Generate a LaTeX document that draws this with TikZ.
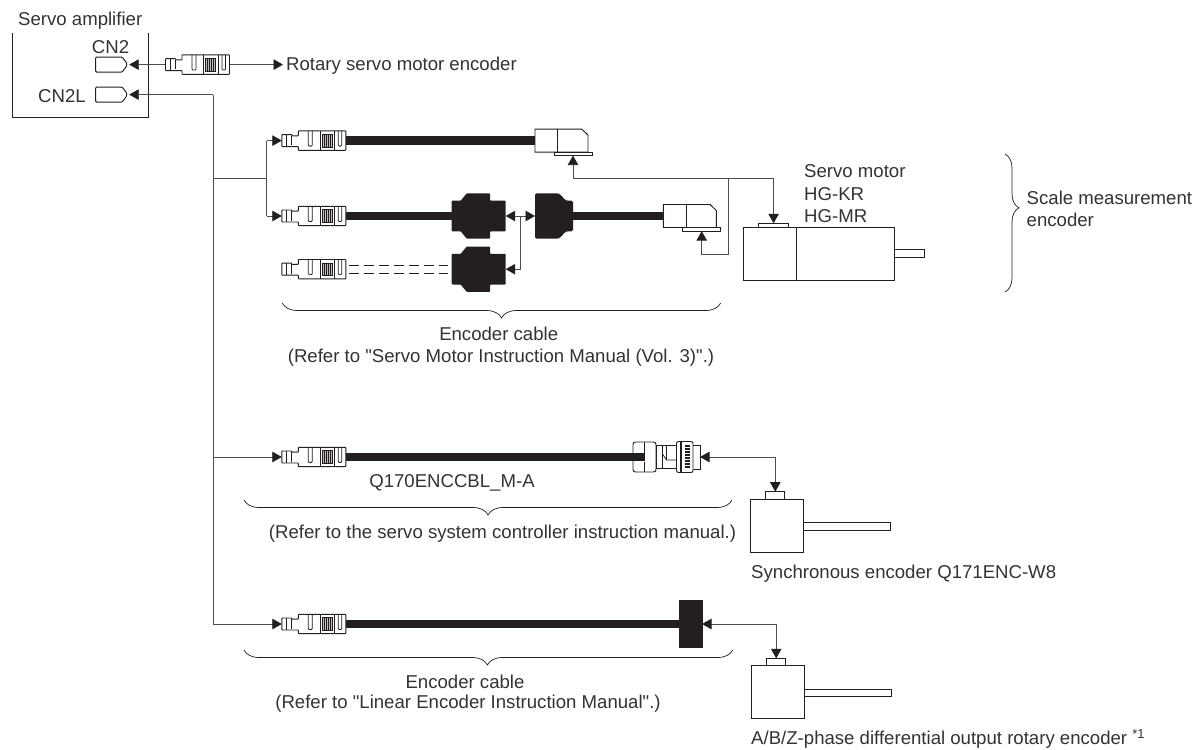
\documentclass[tikz,border=0pt]{standalone}
\usepackage{fontspec}
\setmainfont{Liberation Sans}[Ligatures=TeXOff]
\usetikzlibrary{arrows.meta,decorations.pathreplacing}
\definecolor{Ink}{HTML}{231F20}
\definecolor{Wire}{HTML}{4D4D4D}
\definecolor{Label}{HTML}{333333}
\tikzset{
  wire/.style={draw=Wire,line width=.8pt},
  wirearrow/.style={wire,-{Triangle[length=9.5pt,width=10.5pt,color=Ink]}},
  cablewire/.style={draw=Ink,line width=8.5pt},
  part/.style={draw=Ink,line width=.95pt,fill=white,inner sep=0pt,outer sep=0pt},
  ghost/.style={inner sep=0pt,outer sep=0pt},
  txt/.style={text=Label,font=\fontsize{18.6}{22}\selectfont,inner sep=0pt,text height=15.8pt,text depth=3.9pt},
  curly/.style={draw=Ink,line width=.7pt,decorate},
  plug/.pic={
    \draw[part,line join=round,rounded corners=.6pt] (-32,-6)--(-22,-6)--(-22,-4.8)--(-15.5,-4.8)--(-15.5,-9.7)--(32,-9.7)--(32,9.7)--(-15.5,9.7)--(-15.5,6)--(-22,6)--(-32,6)--cycle;
    \draw[draw=Ink,line width=.8pt] (-27,-6)--(-27,6) (-22,-4.8)--(-22,4.8) (6.2,-9.7)--(6.2,9.7) (20.5,-9.7)--(20.5,9.7);
    \draw[draw=Ink,line width=.8pt,rounded corners=1pt] (-5.5,-9.7)--(-5.5,5.5)--(-1.5,5.5)--(-1.5,-9.7) (24.5,-9.7)--(24.5,5.5)--(28,5.5)--(28,-9.7);
    \draw[draw=Ink,line width=.6pt,fill=gray!55] (8,-6.3) rectangle (18,6.3);
    \foreach \hx in {10,12,14,16} \draw[draw=Ink,line width=.4pt] (\hx,-6.3)--(\hx,6.3);
  },
  tee/.pic={\fill[Ink,rounded corners=.8pt] (-27,-15.3)--(-18,-15.3)--(-12,-22.7)--(11.3,-22.7)--(11.3,-15.3)--(27,-15.3)--(27,15.3)--(11.3,15.3)--(11.3,22.7)--(-12,22.7)--(-18,15.3)--(-27,15.3)--cycle;},
  halftee/.pic={\fill[Ink,rounded corners=1.5pt] (-19,-22.7)--(5,-22.7)--(12,-15.3)--(19,-15.3)--(19,15.3)--(12,15.3)--(5,22.7)--(-19,22.7)--cycle;},
  elbow/.pic={
    \draw[part] (-26.5,-11.5)--(20.3,-11.5)--(26.5,-5.5)--(26.5,11.5)--(-26.5,11.5)--cycle;
    \draw[draw=Ink,line width=.95pt] (-3.8,-11.5)--(-3.8,11.5);
  },
  socket/.pic={\draw[part,rounded corners=1pt] (-15.5,-7.5)--(11,-7.5)--(15.5,-1.5)--(15.5,1.5)--(11,7.5)--(-15.5,7.5)--cycle;},
  threaded/.pic={
    \draw[part,rounded corners=2.5pt] (-33.5,-15)rectangle(-10.5,15);
    \draw[draw=Ink,line width=.9pt] (-22,-15)--(-22,-4.5) (-22,15)--(-22,4.5);
    \draw[part] (-10.5,-11.5)rectangle(9.5,11.5);
    \draw[draw=Ink,line width=.8pt] (-4,-11.5)--(-4,-3)--(0,3)--(9.5,3) (-4,11.5)--(-4,-3) (0,-11.5)--(0,3);
    \draw[part] (26.5,-12)--(33.5,-12)--(33.5,12)--(26.5,12);
    \draw[part,rounded corners=2pt] (10,-15.5)rectangle(26.5,15.5);
    \draw[draw=Ink,line width=1.4pt] (14.5,-15.5)--(14.5,15.5);
    \foreach \gy in {-11,-8,-5,-2,1,4,7,10} \draw[draw=Ink,line width=1.4pt] (18,\gy)--(23,\gy);
  }
}
\begin{document}
\begin{tikzpicture}[x=1pt,y=-1pt]
\useasboundingbox (0,0) rectangle (1201,749);
\fill[white] (0,0) rectangle (1201,749);
\draw[draw=Ink,line width=.95pt] (12.3,33)--(12.3,117.3)--(148.3,117.3)--(148.3,33);
\node[txt,anchor=west] (ampText) at (18,19.5) {Servo amplifier};
\node[txt] (cnTwoText) at (110.5,48) {CN2};
\node[txt,anchor=east] (cnTwoLText) at (86,97) {CN2L};
\node[ghost,minimum width=31pt,minimum height=15pt] (cnTwo) at (111.2,64.6) {};
\node[ghost,minimum width=31pt,minimum height=15pt] (cnTwoL) at (111.2,94.6) {};
\pic at (cnTwo) {socket};
\pic at (cnTwoL) {socket};
\node[ghost,minimum width=64pt,minimum height=19.4pt] (plugTop) at (197.5,64.6) {};
\node[txt,anchor=west] (rotaryText) at (286,64.6) {Rotary servo motor encoder};
\coordinate (rotaryEnd) at (283,64.6);
\draw[wirearrow,shorten >=2.5pt] (plugTop.west)--(cnTwo.east);
\draw[wirearrow] (plugTop.east)--(rotaryEnd);
\pic at (plugTop) {plug};
% trunk and branches
\coordinate (trunkTop) at (213.3,94.6);
\coordinate (trunkA) at (213.3,178);
\coordinate (trunkB) at (213.3,457);
\coordinate (trunkC) at (213.3,624);
\coordinate (forkMid) at (266.7,178);
\coordinate (forkUp) at (266.7,140.6);
\coordinate (forkDown) at (266.7,216);
\node[ghost,minimum width=64pt,minimum height=19.4pt] (plugA) at (313.8,140.6) {};
\node[ghost,minimum width=64pt,minimum height=19.4pt] (plugB) at (313.8,216) {};
\node[ghost,minimum width=64pt,minimum height=19.4pt] (plugC) at (313.8,269.2) {};
\node[ghost,minimum width=64pt,minimum height=19.4pt] (plugD) at (313.8,457) {};
\node[ghost,minimum width=64pt,minimum height=19.4pt] (plugE) at (313.8,624) {};
\node[ghost,minimum width=53pt,minimum height=23pt] (elbowA) at (561.5,140.6) {};
\node[ghost,minimum width=53.7pt,minimum height=23pt] (elbowB) at (689.8,216) {};
\node[ghost,minimum width=54pt,minimum height=45.4pt] (teeA) at (478.7,216) {};
\node[ghost,minimum width=54pt,minimum height=45.4pt] (teeB) at (478.7,269.2) {};
\node[ghost,minimum width=38pt,minimum height=45.4pt] (halfTee) at (554,216) {};
\node[ghost,minimum width=67pt,minimum height=31pt] (threadConn) at (666.5,457) {};
\node[part,fill=Ink,minimum width=23pt,minimum height=46.3pt] (blockConn) at (690.5,624) {};
\draw[wirearrow,shorten >=2.5pt] (trunkTop)--(cnTwoL.east);
\draw[wire] (trunkTop)--(trunkA)--(trunkB)--(trunkC);
\draw[wire] (trunkA)--(forkMid)--(forkUp) (forkMid)--(forkDown);
\draw[wirearrow] (forkUp)--(plugA.west);
\draw[wirearrow] (forkDown)--(plugB.west);
\draw[wirearrow] (trunkB)--(plugD.west);
\draw[wirearrow] (trunkC)--(plugE.west);
\draw[cablewire] (plugA.east)--(elbowA.west);
\draw[cablewire] (plugB.east)--(teeA.west);
\draw[cablewire] (halfTee.east)--(elbowB.west);
\draw[cablewire] (plugE.east)--(blockConn.west);
\draw[draw=Ink,line width=.8pt,dash pattern=on 10pt off 5pt] ([yshift=-3.9pt]plugC.east)++(3.5,0)--++(99,0);
\draw[draw=Ink,line width=.8pt,dash pattern=on 10pt off 5pt] ([yshift=3.6pt]plugC.east)++(3.5,0)--++(99,0);
\pic at (plugA) {plug};
\pic at (plugB) {plug};
\pic at (plugC) {plug};
\pic at (plugD) {plug};
\pic at (plugE) {plug};
\pic at (teeA) {tee};
\pic at (teeB) {tee};
\pic at (halfTee) {halftee};
\pic at (elbowA) {elbow};
\pic at (elbowB) {elbow};
\pic at (threadConn) {threaded};
\draw[cablewire] (plugD.east)--([xshift=11.5pt]threadConn.west);
\node[part,minimum width=38pt,minimum height=3.6pt] (flangeA) at (573,153.8) {};
\node[part,minimum width=38pt,minimum height=3.6pt] (flangeB) at (701.7,229.3) {};
% motor
\node[part,minimum width=151pt,minimum height=53pt] (motor) at (818.8,253.8) {};
\node[part,minimum width=30.4pt,minimum height=7.7pt] (motorShaft) at (909.5,253.8) {};
\node[part,minimum width=30.7pt,minimum height=4pt] (motorFlange) at (773.6,225.3) {};
\draw[draw=Ink,line width=.95pt] ([xshift=52.7pt]motor.north west)--([xshift=52.7pt]motor.south west);
\node[txt,anchor=west] (motorTextA) at (804,171.7) {Servo motor};
\node[txt,anchor=west] (motorTextB) at (804,195) {HG-KR};
\node[txt,anchor=west] (motorTextC) at (804,216.7) {HG-MR};
\coordinate (feedA) at (573,178.3);
\coordinate (feedB) at (728.3,178.3);
\coordinate (feedC) at (773.6,178.3);
\coordinate (feedD) at (728.3,254);
\coordinate (feedE) at (701.7,254);
\draw[wirearrow] (feedB)--(feedA)--(flangeA.south);
\draw[wirearrow] (feedB)--(feedC)--(motorFlange.north);
\draw[wirearrow] (feedB)--(feedD)--(feedE)--(flangeB.south);
\coordinate (teeJoin) at (520,216);
\coordinate (teeLow) at (520,269.2);
\draw[wirearrow] (teeJoin)--(teeA.east);
\draw[wirearrow] (teeJoin)--(halfTee.west);
\draw[wirearrow] (teeJoin)--(teeLow)--(teeB.east);
% encoders
\node[part,minimum width=87pt,minimum height=8pt] (syncShaft) at (847.2,526) {};
\node[part,minimum width=53pt,minimum height=53pt] (syncEnc) at (777.2,526.2) {};
\node[part,minimum width=19.3pt,minimum height=8pt] (syncFlange) at (775.3,495.7) {};
\node[part,minimum width=87.4pt,minimum height=7.3pt] (abzShaft) at (848,692.7) {};
\node[part,minimum width=53.3pt,minimum height=53.3pt] (abzEnc) at (777.7,692.3) {};
\node[part,minimum width=19pt,minimum height=7.4pt] (abzFlange) at (776.2,662) {};
\coordinate (syncBend) at (775.3,457);
\coordinate (abzBend) at (776.2,624);
\draw[wirearrow] (syncBend)--(syncFlange.north);
\draw[wirearrow] (syncBend)--(threadConn.east);
\draw[wirearrow] (abzBend)--(abzFlange.north);
\draw[wirearrow] (abzBend)--(blockConn.east);
\node[txt,anchor=west] (syncText) at (751,572.7) {Synchronous encoder Q171ENC-W8};
\node[txt,anchor=west] (abzText) at (751,738.6) {A/B/Z-phase differential output rotary encoder \textsuperscript{*1}};
% braces
\draw[curly,decoration={brace,mirror,amplitude=15pt,aspect=.5}] (282.3,303)--(720.7,303);
\draw[curly,decoration={brace,mirror,amplitude=15pt,aspect=.5}] (244,500)--(732,500);
\draw[curly,decoration={brace,mirror,amplitude=15pt,aspect=.498}] (244,650)--(732.7,650);
\draw[curly,decoration={brace,amplitude=14pt,aspect=.39}] (1005,154)--(1005,292);
\node[txt] (cableTextA) at (498.7,335) {Encoder cable};
\node[txt] (cableReferA) at (501,356.7) {(Refer to "Servo Motor Instruction Manual (Vol. 3)".)};
\node[txt] (qCableText) at (452,482) {Q170ENCCBL\_M-A};
\node[txt] (qReferText) at (502.5,533) {(Refer to the servo system controller instruction manual.)};
\node[txt] (cableTextB) at (465,682.7) {Encoder cable};
\node[txt] (cableReferB) at (468,703) {(Refer to "Linear Encoder Instruction Manual".)};
\node[txt,anchor=west] (scaleTextA) at (1026.5,199) {Scale measurement};
\node[txt,anchor=west] (scaleTextB) at (1026.5,221) {encoder};
\end{tikzpicture}
\end{document}
